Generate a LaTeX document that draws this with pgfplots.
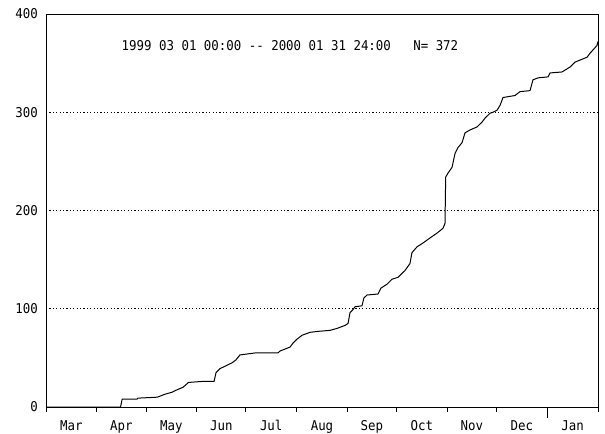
\documentclass[border=0pt]{standalone}
\usepackage{fontspec}
\setmonofont[FakeStretch=0.92]{DejaVu Sans Mono}
\usepackage{pgfplots}
\pgfplotsset{compat=1.18}
\begin{document}
\begin{tikzpicture}
\path[use as bounding box] (0,0) rectangle (605bp,434bp);
\begin{axis}[at={(46bp,27bp)}, anchor=south west, scale only axis,
  width=552bp, height=393bp,
  xmin=0, xmax=337, ymin=0, ymax=400,
  axis line style={line width=0.9pt},
  font=\fontsize{13.5bp}{16bp}\selectfont\ttfamily,
  /pgf/number format/assume math mode=true,
  tick pos=left, tick align=outside, major tick length=5bp,
  xtick={0,31,61,92,122,153,184,214,245,275,306,337},
  x tick label as interval,
  xticklabels={Mar,Apr,May,Jun,Jul,Aug,Sep,Oct,Nov,Dec,Jan},
  xticklabel style={anchor=north, inner sep=0pt, yshift=-8bp, text height=10bp, text depth=2bp},
  extra x ticks={306}, extra x tick labels={},
  extra x tick style={major tick length=11bp},
  every x tick/.style={black, line width=0.8pt},
  ytick={0,100,200,300,400},
  every y tick/.style={draw=none},
  yticklabel style={anchor=east, inner sep=0pt, xshift=-3bp},
  ymajorgrids,
  major grid style={black, line width=0.8pt, dash pattern=on 1.2bp off 2.2bp},
]
\addplot[sharp plot, black, line width=1pt, line join=round] coordinates {
(0,0) (45.5,0) (46.5,8) (55.6,8) (56,9) (68,10) (72.6,13) (76.9,15) (80.6,18)
(83.6,20) (85,22) (87,25) (95.2,26) (102.6,26) (103.8,35) (106.2,39) (109.9,42)
(113.6,45) (116,48) (118.4,53) (127.6,55) (141.6,55) (142.9,57) (149,61)
(150.8,65) (153.2,69) (156.3,73) (161.2,76) (166.1,77) (173.4,78) (177.7,80)
(182.5,83) (184.4,85) (185.6,96) (187.4,99) (188.6,102) (192.9,103) (194.1,111)
(196,114) (202.7,115) (204.5,121) (208.2,125) (211.2,130) (214.9,132)
(219.2,139) (222.2,146) (223.4,157) (226.5,163) (230.2,167) (234.4,172)
(238.7,177) (241,180) (242.4,182) (243.6,187) (244,234) (245.4,238)
(247.9,244) (249.7,258) (251.5,264) (254,269) (255.8,279) (258.9,282)
(263.1,285) (266.2,290) (268,294) (271.1,299) (272.9,300) (275.3,302)
(277.2,307) (279,315) (286.3,317) (289.4,321) (295.5,322) (297.3,333)
(300.4,335) (306.5,336) (307.7,340) (315,341) (319.9,346) (322.9,351)
(330.3,356) (332.1,360) (336.4,368) (337,372)
};
\node[font=\fontsize{13.5bp}{16bp}\selectfont\ttfamily] at (rel axis cs:0.442,0.919)
  {1999 03 01 00:00 -{}- 2000 01 31 24:00\ \ \ N= 372};
\end{axis}
\end{tikzpicture}
\end{document}
